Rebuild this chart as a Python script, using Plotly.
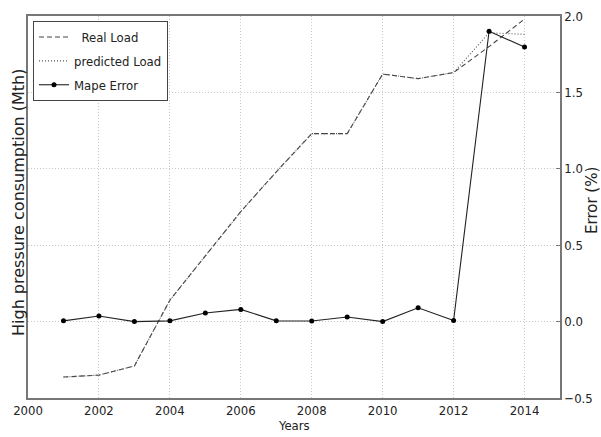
import plotly.graph_objects as go

years = [2001, 2002, 2003, 2004, 2005, 2006, 2007, 2008, 2009, 2010, 2011, 2012, 2013, 2014]
real_load = [-0.363, -0.35, -0.29, 0.14, 0.43, 0.72, 0.98, 1.23, 1.23, 1.62, 1.59, 1.63, 1.80, 1.98]
predicted_load = [-0.363, -0.35, -0.29, 0.14, 0.43, 0.72, 0.98, 1.23, 1.23, 1.62, 1.59, 1.63, 1.89, 1.88]
mape_error = [0.005, 0.037, 0.0, 0.005, 0.056, 0.08, 0.005, 0.004, 0.03, 0.0, 0.09, 0.007, 1.90, 1.797]

x_ticks = [2000, 2002, 2004, 2006, 2008, 2010, 2012, 2014]
y2_ticks = [-0.5, 0.0, 0.5, 1.0, 1.5, 2.0]

font = "DejaVu Sans Condensed, DejaVu Sans"
vfont = "DejaVu Sans"
fig = go.Figure()
fig.add_trace(go.Scatter(x=years, y=real_load, mode="lines", name="  Real Load", legendgroup="a",
                         line=dict(color="#444444", width=1.1, dash="5px,3px"), yaxis="y"))
fig.add_trace(go.Scatter(x=years, y=predicted_load, mode="lines", name="predicted Load", legendgroup="b",
                         line=dict(color="#555555", width=1.1, dash="1px,2px"), yaxis="y"))
fig.add_trace(go.Scatter(x=years, y=mape_error, mode="lines+markers", name="Mape Error", legendgroup="c",
                         line=dict(color="#222222", width=1.1),
                         marker=dict(color="black", size=5), yaxis="y2"))

axis_common = dict(showline=True, linecolor="#777777", linewidth=1.5, automargin=False,
                   zeroline=False, tickfont=dict(family=font, size=13, color="#222"))
fig.update_layout(
    width=601, height=437,
    margin=dict(l=28, r=41, t=16, b=39),
    plot_bgcolor="white", paper_bgcolor="white",
    font=dict(family=font, size=13, color="#222"),
    xaxis=dict(range=[2000, 2015], tickvals=x_ticks, ticks="", showgrid=True,
               gridcolor="#c8c8c8", griddash="1px,2px", gridwidth=1, mirror=True, **axis_common),
    yaxis=dict(range=[-0.5, 2.0], tickvals=y2_ticks, showticklabels=False, ticks="",
               showgrid=True, gridcolor="#c8c8c8", griddash="1px,2px", gridwidth=1,
               mirror=False, **axis_common),
    yaxis2=dict(range=[-0.5, 2.0], tickvals=y2_ticks, tickformat=".1f", overlaying="y",
                side="right", showgrid=False, ticks="inside", ticklen=4, tickcolor="#777",
                **axis_common),
    legend=dict(x=(33 - 28) / 532, y=1 - (21 - 16) / 382, xanchor="left", yanchor="top",
                bgcolor="white", bordercolor="#444444", borderwidth=1,
                font=dict(family=font, size=13, color="#222"), tracegroupgap=4,
                itemwidth=30),
    showlegend=True,
    annotations=[
        dict(text="Years", xref="paper", yref="paper", x=0.5, y=-(425 - 398) / 382,
             xanchor="center", yanchor="middle",
             showarrow=False, font=dict(family=font, size=13, color="#222")),
        dict(text="High pressure consumption (Mth)", xref="paper", yref="paper",
             x=(18 - 28) / 532, y=1 - (203 - 16) / 382, textangle=-90, showarrow=False,
             xanchor="center", yanchor="middle",
             font=dict(family=vfont, size=16, color="#222")),
        dict(text="Error (%)", xref="paper", yref="paper",
             x=(592 - 28) / 532, y=1 - (201 - 16) / 382, textangle=-90, showarrow=False,
             xanchor="center", yanchor="middle",
             font=dict(family=vfont, size=15, color="#222")),
    ],
)
fig.write_html("out.html")
